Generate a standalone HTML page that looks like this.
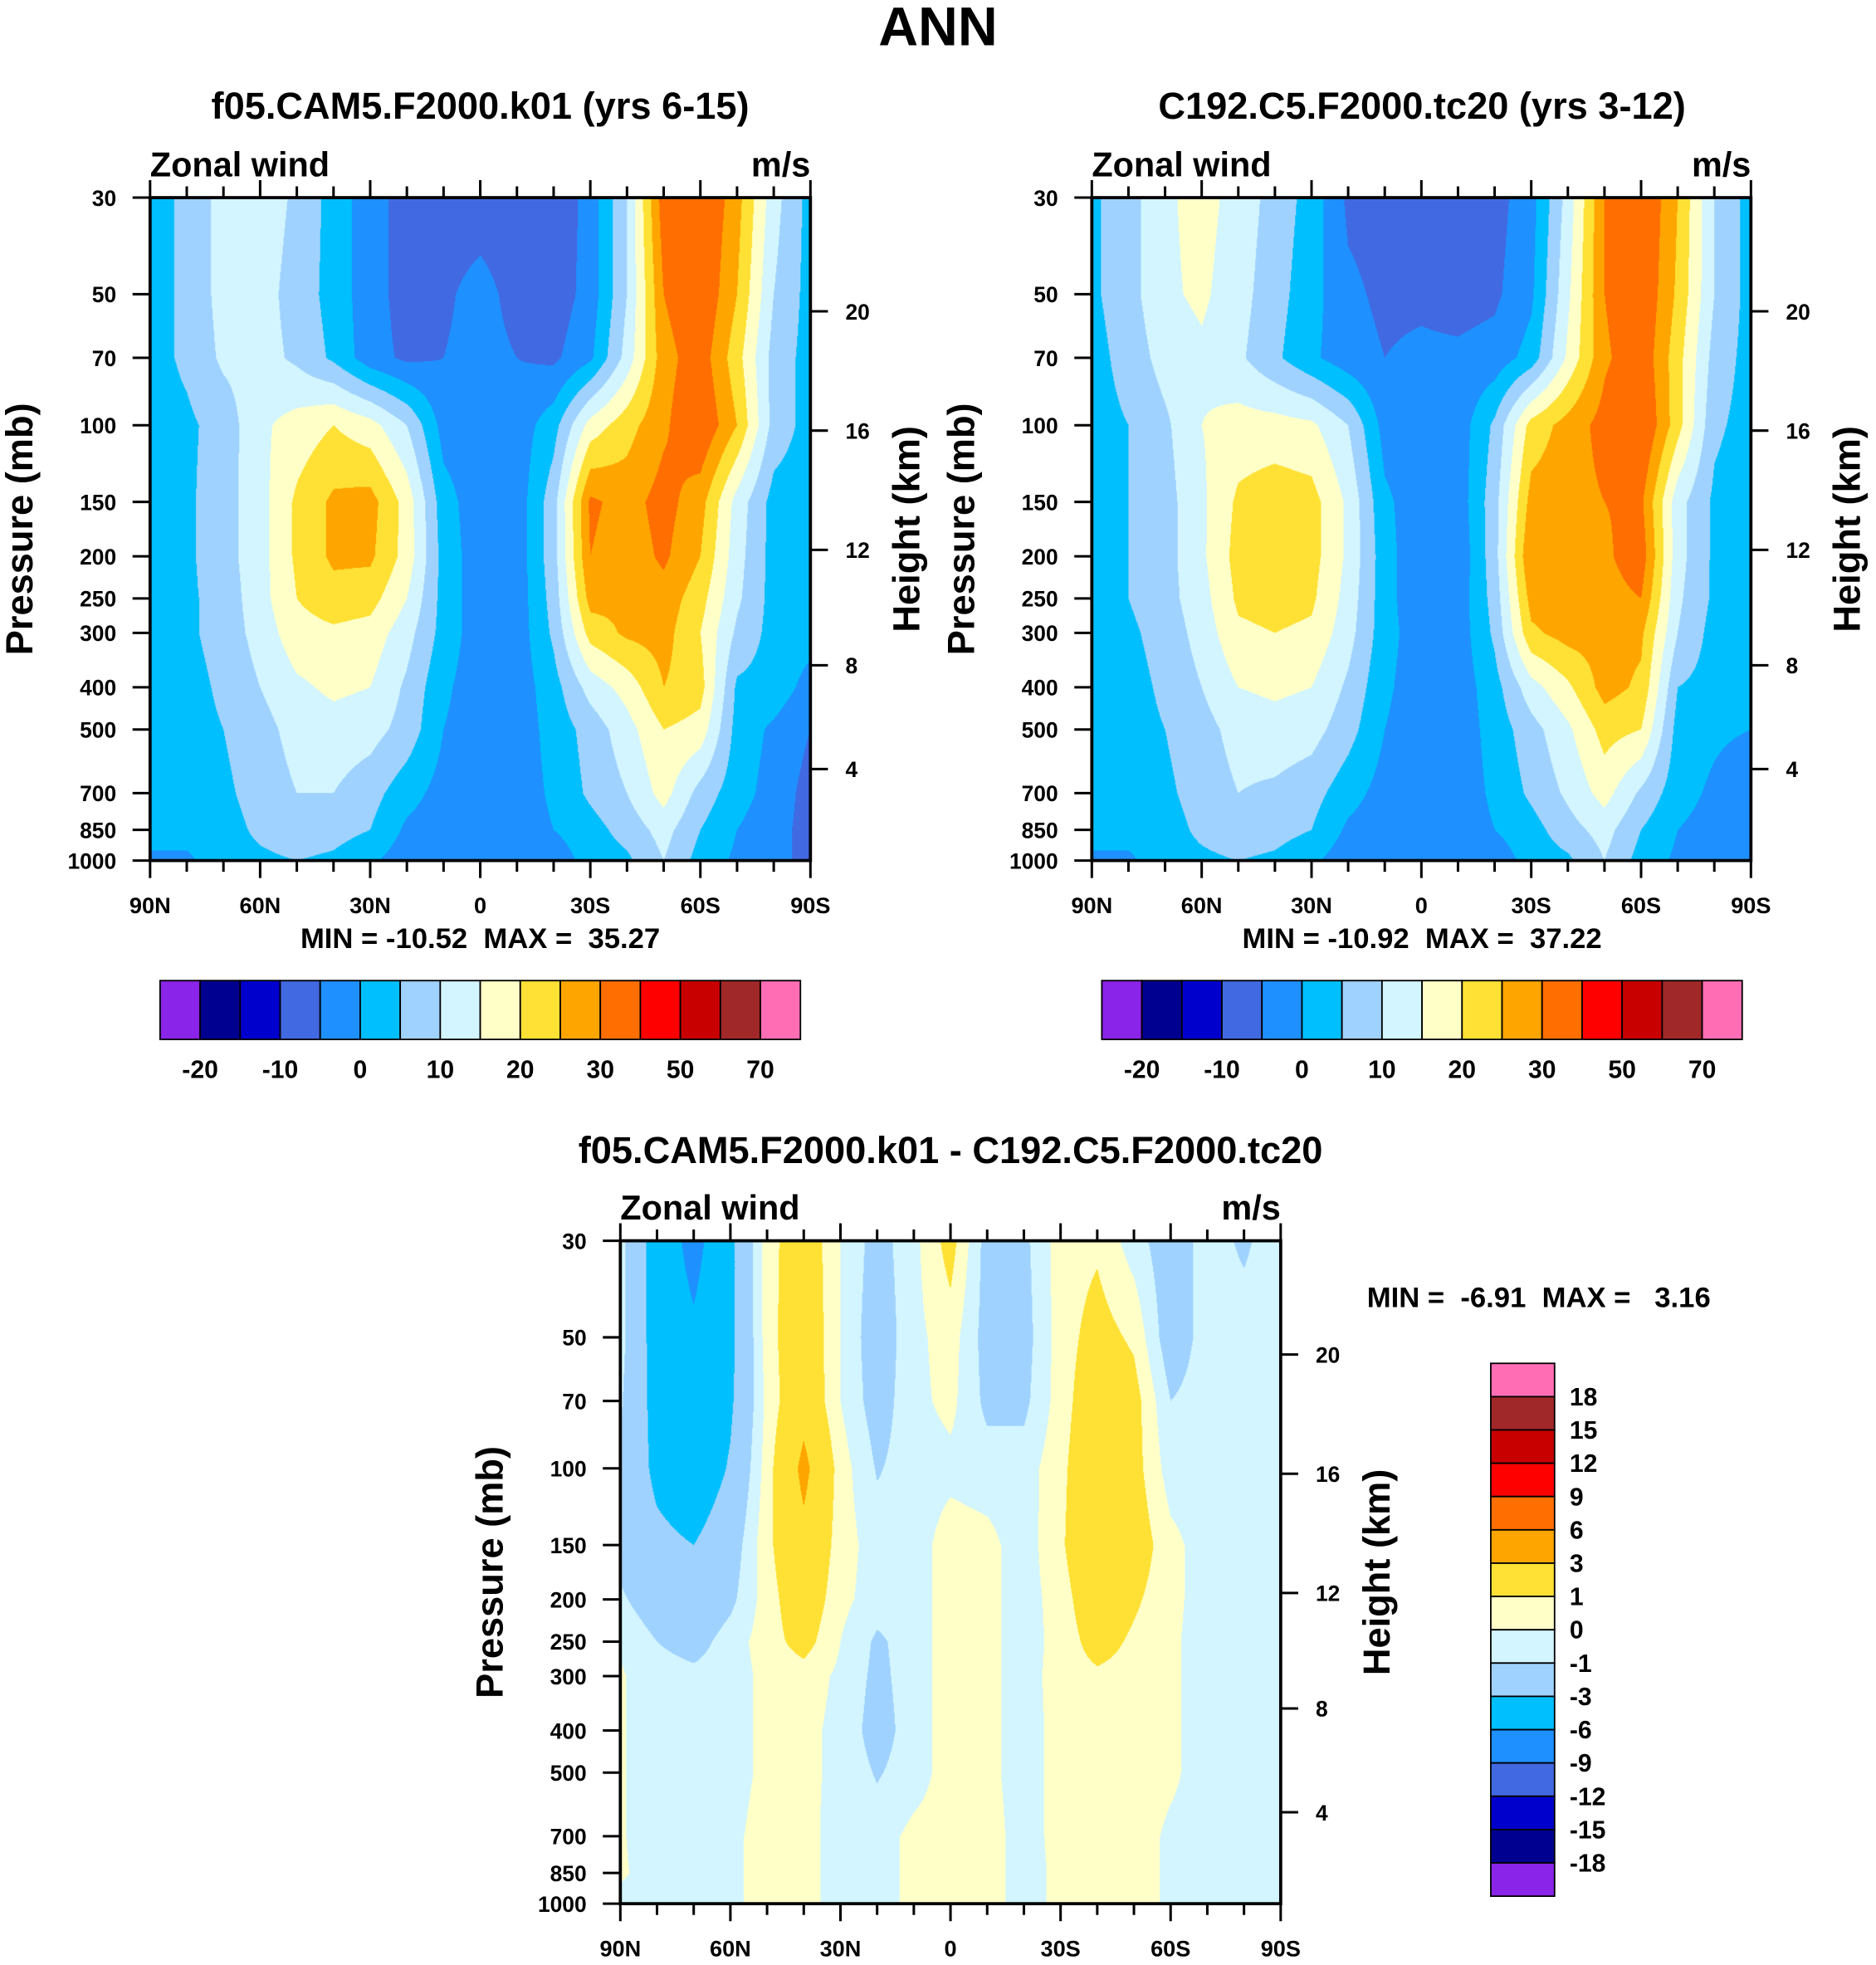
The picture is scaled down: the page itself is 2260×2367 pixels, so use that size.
<!DOCTYPE html>
<html><head><meta charset="utf-8"><style>
html,body{margin:0;padding:0;background:#fff;}
#root{position:absolute;left:0;top:0;width:1500px;height:1571px;transform:scale(1.506667);transform-origin:0 0;}
canvas{position:absolute;}
svg{position:absolute;left:0;top:0;}
text{font-family:"Liberation Sans",Arial,sans-serif;font-weight:bold;fill:#000;white-space:pre;}
</style></head><body>
<div id="root">
<canvas id="c1" style="left:120px;top:158px;width:528px;height:530px" width="792" height="795"></canvas>
<canvas id="c2" style="left:873px;top:158px;width:527px;height:530px" width="791" height="795"></canvas>
<canvas id="c3" style="left:496px;top:992px;width:528px;height:530px" width="792" height="795"></canvas>
<svg id="ov" width="1500" height="1571" viewBox="0 0 1500 1571"></svg>
</div>
<script>
const lats=[90,80,70,60,50,40,30,20,10,0,-10,-20,-30,-40,-50,-60,-70,-80,-90];
const plevs=[30,50,70,100,150,200,250,300,400,500,700,850,1000];
const ptickLabels=[30,50,70,100,150,200,250,300,400,500,700,850,1000];
const htickLabels=[4,8,12,16,20];
const latTickLabels=["90N","60N","30N","0","30S","60S","90S"];
const fullLevels=[-20,-15,-10,-5,0,5,10,15,20,25,30,40,50,60,70];
const fullLevelLabels=["-20","-10","0","10","20","30","50","70"];
const diffLevels=[-18,-15,-12,-9,-6,-3,-1,0,1,3,6,9,12,15,18];
const colors=["#8A24E8","#000090","#0000CD","#4169E1","#1E90FF","#00BFFF","#A0D2FF","#D2F5FF","#FFFFC8","#FFE135","#FFA500","#FF6E00","#FF0000","#C80000","#A02828","#FF6EB4"];
const fieldA=[
[3,6,12,13,9,3,-3,-7,-8,-8,-8,-9,-3,10,33,36,27,12,3],
[3,6,12,12,8,3,-3,-7,-6,-3,-7,-8,-3,10,30,35,25,10,3],
[3,6,11,12,9,4,-3,-6,-5,-3,-5,-6,-1,12,28,33,22,8,3],
[3,4,7,14,17,20,17,10,-2,-3,-3,3,17,23,29,35,25,8,3],
[2,4,8,13,21,26,27,18,2,-3,-3,8,31,28,32,27,13,3,2],
[2,4,8,13,21,26,26,18,3,-3,-3,8,30,27,31,25,12,3,2],
[2,4,7,13,20,23,22,15,3,-3,-3,7,27,26,28,22,11,3,2],
[2,4,7,12,18,19,18,12,3,-3,-3,6,22,26,27,20,9,3,2],
[2,3,6,10,14,16,15,9,1,-3,-3,3,12,17,25,22,4,3,-2],
[1,3,5,8,12,13,12,8,0,-3,-3,2,7,13,20,18,3,-1,-5],
[1,2,4,7,10,10,7,2,-2,-3,-3,1,6,10,17,8,2,-2,-7],
[0,2,3,6,8,7,5,-1,-3,-3,-3,0,3,7,12,5,0,-3,-7],
[0,-1,3,4,5,4,1,-3,-4,-4,-5,-3,2,4,10,3,-1,-4,-6]];
const fieldB=[
[4,8,14,17,13,8,3,-6,-7,-8,-8,-7,-2,12,30,36,25,10,3],
[4,8,14,16,12,7,2,-4,-6,-6,-7,-6,-1,14,30,35,24,10,3],
[3,7,12,14,11,6,1,-3,-5,-4,-4,-3,2,16,29,34,22,8,3],
[3,5,9,15,17,17,16,10,-2,-3,-3,6,22,27,32,36,22,6,3],
[3,5,8,14,21,23,22,14,1,-3,-3,8,27,28,30,31,12,4,2],
[2,5,8,14,22,23,22,14,2,-4,-4,8,30,28,29,33,12,4,2],
[2,5,8,13,21,22,21,13,2,-4,-3,7,27,27,28,30,11,4,2],
[2,4,7,12,19,20,19,12,2,-3,-3,6,24,27,27,26,10,3,2],
[2,3,6,10,15,16,15,9,1,-3,-3,3,13,19,27,24,5,3,1],
[2,3,5,8,12,13,12,7,0,-3,-3,2,8,14,22,20,3,1,0],
[1,2,4,7,10,9,7,2,-2,-4,-3,1,6,11,17,9,2,-1,-4],
[0,2,3,6,8,7,5,-1,-3,-3,-3,0,3,8,12,5,0,-2,-5],
[0,-1,3,4,5,4,1,-3,-4,-4,-5,-3,2,4,10,3,-1,-3,-5]];
const fieldD=[
[-0.5,-4,-7,-3.5,0.5,2,0,-1.5,-0.3,1.5,-1.5,-1.3,0.5,0.8,-0.5,-1.8,-0.5,-1.2,-0.3],
[-0.5,-4,-5.5,-3.5,0.5,2.2,0,-1.8,-0.3,0.5,-1.5,-1.5,0.5,1.5,0.8,-1.8,-0.5,-0.5,-0.3],
[-0.8,-3.8,-5,-3.3,0.3,2.3,0,-1.6,-0.3,0.3,-1.3,-1.3,0.5,2,1.5,-1,-0.5,-0.5,-0.3],
[-1.2,-3.5,-4.5,-2.8,0.5,3.5,0.5,-1.1,-0.5,-0.3,-0.5,-0.5,0.7,2.3,1.5,-0.5,-0.5,-0.5,-0.3],
[-1.5,-2.5,-3,-1.8,0.7,2.5,0.5,-0.5,-0.5,0.5,0.3,-0.5,0.8,2.5,1.8,0.3,-0.5,-0.5,-0.3],
[-0.8,-1.8,-2.2,-1.3,0.5,2,0.3,-0.5,-0.5,0.5,0.3,-0.5,0.5,2,1.2,0.3,-0.5,-0.5,-0.3],
[-0.1,-1,-1.5,-0.5,0.5,1.5,0,-1.2,-0.5,0.5,0.3,-0.5,0.4,1.5,0.8,0.2,-0.5,-0.5,-0.3],
[0.1,-0.5,-0.7,-0.5,0.3,0.5,-0.2,-1.3,-0.5,0.5,0.3,-0.5,0.5,0.8,0.6,0.2,-0.5,-0.5,-0.3],
[0.1,-0.5,-0.5,-0.5,0.3,0.3,-0.3,-1.5,-0.5,0.5,0.3,-0.5,0.4,0.6,0.5,0.2,-0.5,-0.5,-0.3],
[0.1,-0.5,-0.5,-0.5,0.3,0.3,-0.3,-1.1,-0.5,0.5,0.3,-0.5,0.4,0.5,0.5,0.2,-0.5,-0.5,-0.3],
[0.1,-0.5,-0.5,-0.3,0.5,0.4,-0.5,-0.5,0.3,0.5,0.5,-0.5,0.4,0.5,0.5,-0.2,-0.4,-0.3,-0.2],
[0.1,-0.3,-0.5,-0.3,0.5,0.4,-0.5,-0.5,0.3,0.5,0.5,-0.5,0.3,0.5,0.5,-0.2,-0.3,-0.2,-0.1],
[-0.2,-0.3,-0.5,-0.3,0.5,0.4,-0.5,-0.5,0.3,0.5,0.5,-0.5,0.3,0.5,0.5,-0.2,-0.3,-0.2,-0.1]];

const PMIN=30,PMAX=1000;
function hexRgb(h){return [parseInt(h.substr(1,2),16),parseInt(h.substr(3,2),16),parseInt(h.substr(5,2),16)];}
const rgb=colors.map(hexRgb);
function levelIndex(v,levels){let k=0;while(k<levels.length&&v>=levels[k])k++;return k;}
function drawField(id,field,levels){
  const cv=document.getElementById(id),ctx=cv.getContext('2d');
  const W=cv.width,H=cv.height,img=ctx.createImageData(W,H);
  const lnp=plevs.map(Math.log),l0=Math.log(PMIN),l1=Math.log(PMAX);
  for(let j=0;j<H;j++){
    const lp=l0+(j+0.5)/H*(l1-l0);
    let r=0;while(r<plevs.length-2&&lp>lnp[r+1])r++;
    const ty=Math.min(1,Math.max(0,(lp-lnp[r])/(lnp[r+1]-lnp[r])));
    for(let i=0;i<W;i++){
      const lat=90-(i+0.5)/W*180;
      let c=0;while(c<lats.length-2&&lat<lats[c+1])c++;
      const tx=(lats[c]-lat)/(lats[c]-lats[c+1]);
      const v=(1-ty)*((1-tx)*field[r][c]+tx*field[r][c+1])+ty*((1-tx)*field[r+1][c]+tx*field[r+1][c+1]);
      const col=rgb[levelIndex(v,levels)],o=(j*W+i)*4;
      img.data[o]=col[0];img.data[o+1]=col[1];img.data[o+2]=col[2];img.data[o+3]=255;
    }
  }
  ctx.putImageData(img,0,0);
}
drawField('c1',fieldA,fullLevels);
drawField('c2',fieldB,fullLevels);
drawField('c3',fieldD,diffLevels);

const svg=document.getElementById('ov'),NS='http://www.w3.org/2000/svg';
function mk(tag,attrs,parent){const e=document.createElementNS(NS,tag);for(const k in attrs)e.setAttribute(k,attrs[k]);(parent||svg).appendChild(e);return e;}
function txt(x,y,s,size,anchor,name,rot){const t=mk('text',{x:x,y:y,'font-size':size,'text-anchor':anchor||'middle'});t.textContent=s;


if(rot)t.setAttribute('transform','rotate(-90 '+x+' '+y+')');return t;}
function zToP(z){return z<=11?1013.25*Math.pow(1-0.0225577*z,5.25588):226.32*Math.exp(-(z-11)*1000/6341.6);}

function axes(x0,y0,w,h,pfx){
  const g=mk('g',{});
  
  
  const py=p=>y0+Math.log(p/PMIN)/Math.log(PMAX/PMIN)*h;
  const lx=lat=>x0+(90-lat)/180*w;
  const fr=mk('rect',{x:x0,y:y0,width:w,height:h,fill:'none',stroke:'#000','stroke-width':2.5},g);
  
  
  ptickLabels.forEach(p=>{const y=py(p);mk('line',{x1:x0-14,x2:x0,y1:y,y2:y,stroke:'#000','stroke-width':2},g);
    txt(x0-27,y+6.5,String(p),17.5,'end',pfx+'-pressure-tick-'+p);});
  htickLabels.forEach(z=>{const y=py(zToP(z));mk('line',{x1:x0+w,x2:x0+w+14,y1:y,y2:y,stroke:'#000','stroke-width':2},g);
    txt(x0+w+28,y+6.5,String(z),17.5,'start',pfx+'-height-tick-'+z);});
  for(let lat=90;lat>=-90;lat-=10){const x=lx(lat),major=lat%30===0,L=major?14:9;
    mk('line',{x1:x,x2:x,y1:y0,y2:y0-L,stroke:'#000','stroke-width':2},g);
    mk('line',{x1:x,x2:x,y1:y0+h,y2:y0+h+L,stroke:'#000','stroke-width':2},g);}
  latTickLabels.forEach((s,i)=>{txt(lx(90-30*i),y0+h+42,s,18,'middle',pfx+'-lat-label-'+s);});
  txt(x0,y0-17,'Zonal wind',27.5,'start',pfx+'-zonal-wind-label');
  txt(x0+w,y0-17,'m/s',27.5,'end',pfx+'-units-label');
  txt(x0-94,y0+h/2,'Pressure (mb)',30,'middle',pfx+'-y-axis-title',true);
  txt(x0+w+87,y0+h/2,'Height (km)',30,'middle',pfx+'-right-axis-title',true);
}
txt(750,36,'ANN',44,'middle','figure-title');
txt(384,95,'f05.CAM5.F2000.k01 (yrs 6-15)',30,'middle','panel1-title');
txt(1137,95,'C192.C5.F2000.tc20 (yrs 3-12)',30,'middle','panel2-title');
txt(760,930,'f05.CAM5.F2000.k01 - C192.C5.F2000.tc20',30,'middle','panel3-title');
axes(120,158,528,530,'panel1');
axes(873,158,527,530,'panel2');
axes(496,992,528,530,'panel3');
txt(384,758,'MIN = -10.52  MAX =  35.27',23,'middle','panel1-min-max');
txt(1137,758,'MIN = -10.92  MAX =  37.22',23,'middle','panel2-min-max');
txt(1093,1045,'MIN =  -6.91  MAX =   3.16',23,'start','panel3-min-max');

function hbar(x0,pfx){
  const bw=32;
  colors.forEach((c,i)=>{const r=mk('rect',{x:x0+i*bw,y:784,width:bw,height:47,fill:c,stroke:'#000','stroke-width':1.2});
    
    });
  fullLevelLabels.forEach(s=>{const k=fullLevels.indexOf(Number(s));txt(x0+(k+1)*bw,862,s,20,'middle',pfx+'-colorbar-label-'+s);});
}
hbar(128,'panel1');hbar(881,'panel2');
(function(){
  const n=colors.length,y0=1090,bh=(1516-1090)/n,x0=1192;
  for(let i=0;i<n;i++){const r=mk('rect',{x:x0,y:y0+i*bh,width:51,height:bh,fill:colors[n-1-i],stroke:'#000','stroke-width':1.2});
    
    }
  for(let k=0;k<diffLevels.length;k++){const y=y0+(n-1-k)*bh;txt(x0+63,y+7,String(diffLevels[k]),20,'start','diff-colorbar-label-'+diffLevels[k]);}
})();
</script>
</body></html>
